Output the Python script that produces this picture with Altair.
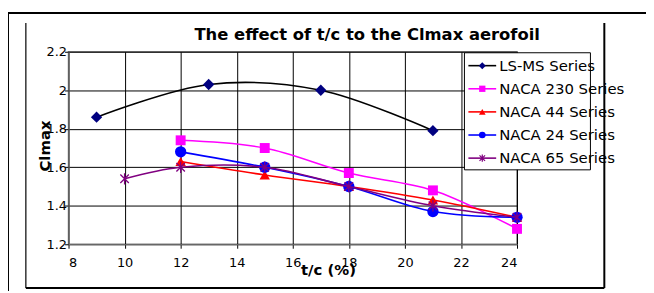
import altair as alt
import pandas as pd

series = ["LS-MS Series", "NACA 230 Series", "NACA 44 Series", "NACA 24 Series", "NACA 65 Series"]

ls_tc = [9, 13, 17, 21]
ls_cl = [1.86, 2.03, 2.00, 1.79]
n230_tc = [12, 15, 18, 21, 24]
n230_cl = [1.74, 1.70, 1.57, 1.48, 1.28]
n44_tc = [12, 15, 18, 21, 24]
n44_cl = [1.63, 1.56, 1.50, 1.43, 1.34]
n24_tc = [12, 15, 18, 21, 24]
n24_cl = [1.68, 1.60, 1.50, 1.37, 1.34]
n65_tc = [10, 12, 15, 18, 21, 24]
n65_cl = [1.54, 1.60, 1.60, 1.50, 1.40, 1.34]

x_ticks = [8, 10, 12, 14, 16, 18, 20, 22, 24]
y_ticks = [1.2, 1.4, 1.6, 1.8, 2.0, 2.2]

title_text = "The effect of t/c to the Clmax aerofoil"
x_title = "t/c (%)"
y_title = "Clmax"

data = [(ls_tc, ls_cl), (n230_tc, n230_cl), (n44_tc, n44_cl), (n24_tc, n24_cl), (n65_tc, n65_cl)]

line_colors = ["#000000", "#FF00FF", "#FF0000", "#0000FF", "#800080"]
marker_colors = ["#000080", "#FF00FF", "#FF0000", "#0000FF", "#800080"]
asterisk = "M-0.75,-0.75L0.75,0.75M-0.75,0.75L0.75,-0.75M0,-1L0,1"
shapes = ["diamond", "square", "triangle-up", "circle", asterisk]
sizes = [130, 100, 110, 130, 130]
leg_sizes = [50, 40, 45, 45, 55]

FONT = "DejaVu Sans"

xscale = alt.Scale(domain=[8, 24], nice=False, zero=False)
yscale = alt.Scale(domain=[1.2, 2.2], nice=False, zero=False)
xaxis = alt.Axis(values=x_ticks, format="d", title=None, labelFont=FONT, labelFontSize=13,
                 labelColor="black", tickSize=4, tickColor="black", labelPadding=8,
                 domainColor="#808080", grid=True, gridColor="#000000", gridWidth=1, gridOpacity=1)
yaxis = alt.Axis(values=y_ticks, format=".1~f", title=None, labelFont=FONT, labelFontSize=13,
                 labelColor="black", tickSize=4, tickColor="black", labelPadding=-2,
                 domainColor="#808080", grid=True, gridColor="#000000", gridWidth=1, gridOpacity=1)

layers = []
dummy = pd.DataFrame({"a": [0]})

for i, (name, (tc, cl)) in enumerate(zip(series, data)):
    df = pd.DataFrame({"tc": tc, "cl": cl, "series": name})
    enc = dict(x=alt.X("tc:Q", scale=xscale, axis=xaxis), y=alt.Y("cl:Q", scale=yscale, axis=yaxis))
    layers.append(alt.Chart(df).mark_line(color=line_colors[i], strokeWidth=1.6,
                                          interpolate="catmull-rom").encode(**enc))
    if i == 4:
        pm = alt.Chart(df).mark_point(shape=shapes[i], size=sizes[i], filled=False,
                                      stroke=marker_colors[i], strokeWidth=1.3, opacity=1)
    else:
        pm = alt.Chart(df).mark_point(shape=shapes[i], size=sizes[i], filled=True,
                                      color=marker_colors[i], opacity=1)
    layers.append(pm.encode(**enc))

# legend box
layers.append(alt.Chart(dummy).mark_rect(fill="white", stroke="black", strokeWidth=1).encode(
    x=alt.value(399), x2=alt.value(526), y=alt.value(1), y2=alt.value(119)))

for i, name in enumerate(series):
    ldf = pd.DataFrame({"name": [name]})
    yy = 14 + i * 23.3
    layers.append(alt.Chart(ldf).mark_rule(color=line_colors[i], strokeWidth=1.6).encode(
        x=alt.value(403), x2=alt.value(431), y=alt.value(yy)))
    if i == 4:
        lm = alt.Chart(ldf).mark_point(shape=shapes[i], size=leg_sizes[i], filled=False,
                                       stroke=marker_colors[i], strokeWidth=1.2, opacity=1)
    else:
        lm = alt.Chart(ldf).mark_point(shape=shapes[i], size=leg_sizes[i], filled=True,
                                       color=marker_colors[i], opacity=1)
    layers.append(lm.encode(x=alt.value(417), y=alt.value(yy)))
    layers.append(alt.Chart(ldf).mark_text(align="left", baseline="middle", font=FONT,
                                           fontSize=15, color="black").encode(
        x=alt.value(434), y=alt.value(yy), text="name:N"))

# titles
layers.append(alt.Chart(pd.DataFrame({"t": [title_text]})).mark_text(
    align="center", baseline="middle", font=FONT, fontSize=16.5, fontWeight="bold", color="black").encode(
    x=alt.value(301), y=alt.value(-17), text="t:N"))
layers.append(alt.Chart(pd.DataFrame({"t": [x_title]})).mark_text(
    align="center", baseline="middle", font=FONT, fontSize=15, fontWeight="bold", color="black").encode(
    x=alt.value(262), y=alt.value(220), text="t:N"))
layers.append(alt.Chart(pd.DataFrame({"t": [y_title]})).mark_text(
    align="center", baseline="middle", font=FONT, fontSize=15, fontWeight="bold", color="black",
    angle=270).encode(x=alt.value(-24), y=alt.value(95), text="t:N"))

# frames
frame = alt.Chart(dummy)
layers.append(frame.mark_rule(color="black", strokeWidth=1.2).encode(
    x=alt.value(-43), y=alt.value(-29), y2=alt.value(238)))
layers.append(frame.mark_rule(color="black", strokeWidth=2).encode(
    x=alt.value(540), y=alt.value(-29), y2=alt.value(238)))
layers.append(frame.mark_rule(color="black", strokeWidth=2).encode(
    x=alt.value(-43), x2=alt.value(540), y=alt.value(238)))
layers.append(frame.mark_rule(color="black", strokeWidth=2).encode(
    x=alt.value(-62), x2=alt.value(600), y=alt.value(-39)))
layers.append(frame.mark_rule(color="black", strokeWidth=2).encode(
    x=alt.value(-61), y=alt.value(-39), y2=alt.value(300)))

chart = alt.layer(*layers).properties(
    width=452, height=194,
    autosize=alt.AutoSizeParams(type="none"),
    padding={"left": 61, "top": 43, "right": 130, "bottom": 46},
    background="white",
).configure_view(stroke="#808080", strokeWidth=1.5)

chart.save("out.html", embed_options={"renderer": "svg", "actions": False})
